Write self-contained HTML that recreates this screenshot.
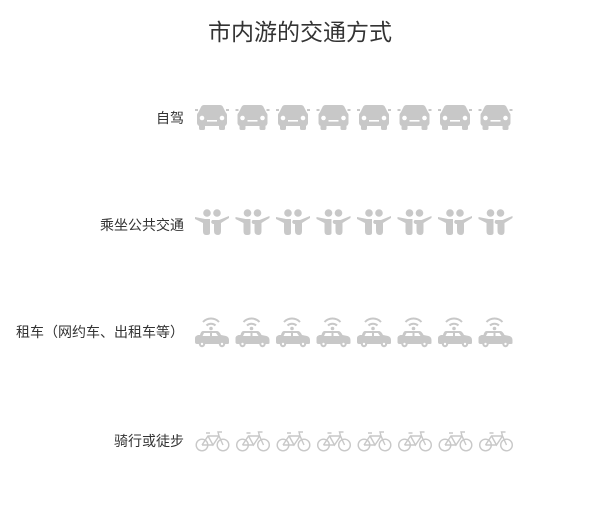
<!DOCTYPE html>
<html><head><meta charset="utf-8"><style>
html,body{margin:0;padding:0;background:#fff;}
body{width:600px;height:510px;position:relative;overflow:hidden;font-family:"Liberation Sans","Noto Sans CJK SC",sans-serif;color:#333;}
.t{position:absolute;left:0;width:600px;text-align:center;top:17px;font-size:23px;line-height:30px;}
.l{position:absolute;right:416px;font-size:14px;line-height:20px;white-space:nowrap;}
svg{position:absolute;left:0;top:0;}
</style></head><body>
<div class="t">市内游的交通方式</div>
<div class="l" style="top:108px">自驾</div>
<div class="l" style="top:215px">乘坐公共交通</div>
<div class="l" style="top:322px">租车（网约车、出租车等）</div>
<div class="l" style="top:431px">骑行或徒步</div>
<svg width="600" height="510" viewBox="0 0 600 510">
<defs>
<g id="car" fill="#c8c8c8">
<rect x="0" y="5" width="3" height="2"/><rect x="31" y="5" width="3" height="2"/>
<path d="M9,1 L25,1 Q27,1 28,3 L31,9 L3,9 L6,3 Q7,1 9,1 Z"/>
<rect x="2" y="8" width="30" height="14" rx="3"/>
<rect x="4" y="20" width="6" height="6" rx="1.5"/><rect x="24" y="20" width="6" height="6" rx="1.5"/>
<circle cx="7" cy="14" r="2.3" fill="#fff"/><circle cx="27" cy="14" r="2.3" fill="#fff"/>
<rect x="12" y="16" width="10" height="1.6" fill="#fff"/>
</g>
<g id="ppl" fill="#c8c8c8">
<circle cx="12" cy="4" r="3.8"/><circle cx="22" cy="4" r="3.8"/>
<path d="M0,8 L10,10 L15,10 L15,24 Q15,26 12,26 L11,26 Q8,26 8,22 L8,14 L0,10 Z"/>
<path d="M34,7 L24,11 L17,11 Q15,14 18,15 L19,15 L19,22 Q19,26 23,26 Q26,26 26,22 L26,14 L34,9 Z"/>
</g>
<g id="taxi" fill="#c8c8c8">
<path d="M8,6 A11,11 0 0 1 24,6" stroke="#c8c8c8" stroke-width="2" fill="none"/>
<path d="M11.5,9.5 A6.5,6.5 0 0 1 20.5,9.5" stroke="#c8c8c8" stroke-width="2" fill="none"/>
<circle cx="16" cy="12.5" r="1.8"/>
<path d="M8,15 L22,15 Q24,15 26,19 L31,20 Q34,21 34,24 L34,27 Q34,28 32,28 L2,28 Q0,28 0,26 L0,22 Q0,20 3,19 L5,19 Q6,15 8,15 Z"/>
<circle cx="7" cy="28" r="3.2"/><circle cx="27" cy="28" r="3.2"/>
<circle cx="7" cy="28" r="1.2" fill="#fff"/><circle cx="27" cy="28" r="1.2" fill="#fff"/>
<path d="M9,17 L15,17 L15,20 L7.5,20 Z M17,17 L21,17 L23,20 L17,20 Z" fill="#fff"/>
</g>
<g id="bike" fill="none" stroke="#c8c8c8" stroke-width="1.4">
<circle cx="6" cy="15" r="5.8"/><circle cx="27" cy="15" r="5.8"/>
<path d="M6,15 L12,6 L23,6 L27,15 M12,6 L17,15 L23,6 M6,15 L17,15 M10,3 L14,3 M23,6 L22,2 L26,2"/>
</g>
</defs>
<g transform="translate(195,104)">
<use href="#car" x="0"/><use href="#car" x="40.5"/><use href="#car" x="81"/><use href="#car" x="121.5"/><use href="#car" x="162"/><use href="#car" x="202.5"/><use href="#car" x="243"/><use href="#car" x="283.5"/>
</g>
<g transform="translate(195,209)">
<use href="#ppl" x="0"/><use href="#ppl" x="40.5"/><use href="#ppl" x="81"/><use href="#ppl" x="121.5"/><use href="#ppl" x="162"/><use href="#ppl" x="202.5"/><use href="#ppl" x="243"/><use href="#ppl" x="283.5"/>
</g>
<g transform="translate(195,316)">
<use href="#taxi" x="0"/><use href="#taxi" x="40.5"/><use href="#taxi" x="81"/><use href="#taxi" x="121.5"/><use href="#taxi" x="162"/><use href="#taxi" x="202.5"/><use href="#taxi" x="243"/><use href="#taxi" x="283.5"/>
</g>
<g transform="translate(196,430)">
<use href="#bike" x="0"/><use href="#bike" x="40.5"/><use href="#bike" x="81"/><use href="#bike" x="121.5"/><use href="#bike" x="162"/><use href="#bike" x="202.5"/><use href="#bike" x="243"/><use href="#bike" x="283.5"/>
</g>
</svg>
</body></html>
